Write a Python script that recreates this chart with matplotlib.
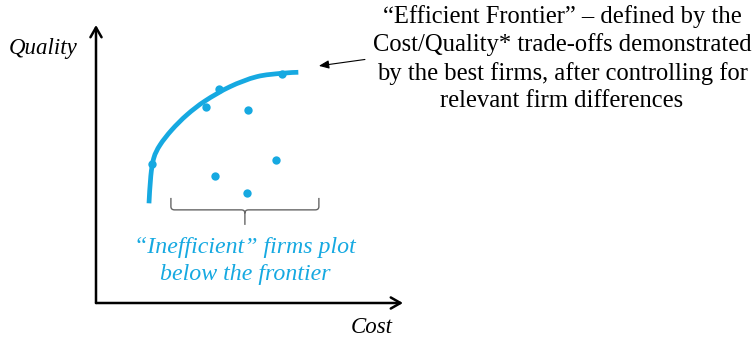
import matplotlib.pyplot as plt
from matplotlib.path import Path
from matplotlib.patches import PathPatch

BLUE = '#16a9e1'

frontier_cost = [17.26, 17.85, 18.83, 20.85, 24.66, 29.64, 35.50, 43.65, 52.35, 60.49, 65.90]
frontier_quality = [35.86, 45.68, 52.16, 56.83, 62.23, 67.70, 72.66, 77.81, 81.40, 82.63, 82.99]

# individual firms
firm_cost = [18.1, 35.7, 40.2, 60.5, 49.5, 58.6, 38.7, 49.1]
firm_quality = [50.0, 70.6, 77.0, 82.3, 69.3, 51.5, 45.8, 39.6]

# brace under the inefficient firms: left, right, top, middle, tip
brace_left, brace_right = 24.4, 72.6
brace_top, brace_mid, brace_tip = 37.8, 33.5, 28.1


def smooth_path(xs, ys):
    # Catmull-Rom through the points, written as cubic Bezier pieces
    pts = list(zip(xs, ys))
    verts = [pts[0]]
    codes = [Path.MOVETO]
    for i in range(len(pts) - 1):
        p0 = pts[i - 1] if i > 0 else pts[i]
        p1, p2 = pts[i], pts[i + 1]
        p3 = pts[i + 2] if i + 2 < len(pts) else pts[i + 1]
        c1 = (p1[0] + (p2[0] - p0[0]) / 6, p1[1] + (p2[1] - p0[1]) / 6)
        c2 = (p2[0] - (p3[0] - p1[0]) / 6, p2[1] - (p3[1] - p1[1]) / 6)
        verts += [c1, c2, p2]
        codes += [Path.CURVE4] * 3
    return Path(verts, codes)


plt.rcParams['font.family'] = ['Liberation Serif', 'DejaVu Serif']

fig = plt.figure(figsize=(7.55, 3.38), dpi=100)
ax = fig.add_axes([96 / 755, 35 / 338, 307 / 755, 278 / 338])
ax.set_xlim(0, 100)
ax.set_ylim(0, 100)
ax.axis('off')

# axes with arrow heads
arrow = dict(arrowstyle='->,head_length=0.7,head_width=0.4', lw=1.8, color='black',
             shrinkA=0, shrinkB=0)
ax.annotate('', xy=(100, 0), xytext=(0, 0), arrowprops=arrow, annotation_clip=False)
ax.annotate('', xy=(0, 100), xytext=(0, 0), arrowprops=arrow, annotation_clip=False)

ax.add_patch(PathPatch(smooth_path(frontier_cost, frontier_quality), fill=False,
                       ec=BLUE, lw=3.4, capstyle='butt'))
ax.plot(firm_cost, firm_quality, 'o', color=BLUE, ms=6, mec='none')

# curly brace
bl, br = brace_left, brace_right
bc = (bl + br) / 2
r = 1.2
verts = [(bl, brace_top), (bl, brace_mid + r), (bl, brace_mid), (bl + r, brace_mid),
         (bc - r, brace_mid), (bc, brace_mid), (bc, brace_mid - r),
         (bc, brace_tip),
         (bc, brace_mid - r), (bc, brace_mid), (bc + r, brace_mid),
         (br - r, brace_mid), (br, brace_mid), (br, brace_mid + r), (br, brace_top)]
codes = [Path.MOVETO, Path.LINETO, Path.CURVE3, Path.CURVE3,
         Path.LINETO, Path.CURVE3, Path.CURVE3,
         Path.LINETO,
         Path.MOVETO, Path.CURVE3, Path.CURVE3,
         Path.LINETO, Path.CURVE3, Path.CURVE3, Path.LINETO]
ax.add_patch(PathPatch(Path(verts, codes), fill=False, ec='#666666', lw=1.0, clip_on=False))

ax.text(bc, 15.2, '\u201cInefficient\u201d firms plot\nbelow the frontier', color=BLUE,
        fontsize=17.2, style='italic', ha='center', va='center', linespacing=1.4)

ax.text(-17.3, 91.7, 'Quality', fontsize=16.5, style='italic', ha='center', va='center',
        clip_on=False)
ax.text(89.7, -10.9, 'Cost', fontsize=16.5, style='italic', ha='center', va='baseline',
        clip_on=False)

# pointer to the frontier
ax.annotate('', xy=(72.6, 85.3), xytext=(87.6, 87.6),
            arrowprops=dict(arrowstyle='-|>,head_length=0.6,head_width=0.25', lw=0.8,
                            color='black', shrinkA=0, shrinkB=0),
            annotation_clip=False)

fig.text(562 / 755, 1 - 58.5 / 338,
         '\u201cEfficient Frontier\u201d \u2013 defined by the\n'
         'Cost/Quality* trade-offs demonstrated\n'
         'by the best firms, after controlling for\n'
         'relevant firm differences',
         fontsize=17.7, ha='center', va='center', linespacing=1.3)

fig.savefig('out.png', dpi=100, facecolor='white')
